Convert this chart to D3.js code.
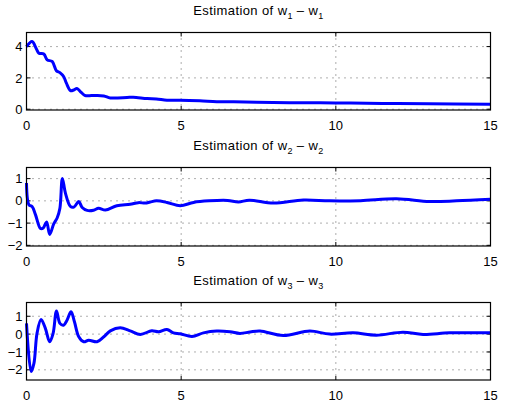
<!DOCTYPE html>
<html>
<head>
<meta charset="utf-8">
<script src="https://cdn.jsdelivr.net/npm/d3@7"></script>
<style>
  body { margin: 0; background: #fff; }
  text { font-family: "Liberation Sans", Arial, sans-serif; }
</style>
</head>
<body>
<svg id="chart" width="506" height="407"></svg>
<script>
// time axis ticks
const xTicks = [0, 5, 10, 15]

// estimation error w1
const w1T = [0, 0.18, 0.32, 0.4, 0.56, 0.67, 0.83, 0.97, 1.08, 1.2, 1.29, 1.42, 1.53, 1.63, 1.74, 1.88, 2.12, 2.5, 2.71, 3.25, 3.45, 3.9, 4.2, 4.54, 4.97, 5.6, 6.15, 6.7, 7.44, 8.5, 10, 11.5, 13, 15]
const w1V = [4.0, 4.33, 3.85, 3.58, 3.53, 3.15, 3.05, 2.45, 2.34, 2.09, 1.66, 1.19, 1.23, 1.32, 1.13, 0.89, 0.87, 0.85, 0.72, 0.75, 0.77, 0.68, 0.66, 0.58, 0.58, 0.54, 0.48, 0.47, 0.44, 0.42, 0.4, 0.37, 0.35, 0.32]

// estimation error w2
const w2T = [0, 0.08, 0.18, 0.29, 0.45, 0.54, 0.65, 0.75, 0.88, 0.99, 1.08, 1.16, 1.26, 1.42, 1.53, 1.69, 1.8, 1.96, 2.17, 2.33, 2.55, 2.92, 3.35, 3.62, 3.84, 4.0, 4.2, 4.54, 4.97, 5.4, 5.9, 6.5, 6.85, 7.2, 7.98, 8.95, 9.8, 10.8, 11.96, 13.03, 13.9, 15]
const w2V = [0.8, -0.18, -0.25, -0.62, -1.24, -1.22, -0.95, -1.51, -1.04, -0.77, -0.33, 1.01, 0.34, -0.25, -0.28, -0.03, -0.3, -0.43, -0.42, -0.33, -0.41, -0.22, -0.15, -0.08, -0.1, -0.05, 0.0, -0.07, -0.22, -0.07, 0.0, 0.02, -0.05, 0.03, -0.1, 0.04, 0.0, 0.01, 0.09, -0.03, 0.0, 0.07]

// estimation error w3
const w3T = [0, 0.15, 0.24, 0.34, 0.47, 0.61, 0.75, 0.86, 0.97, 1.08, 1.2, 1.31, 1.44, 1.55, 1.69, 1.85, 2.01, 2.28, 2.5, 2.71, 3.03, 3.35, 3.68, 4.05, 4.27, 4.54, 4.75, 4.97, 5.35, 5.72, 6.15, 6.58, 6.9, 7.23, 7.55, 8.3, 9.16, 9.8, 10.56, 11.31, 12.17, 12.82, 13.68, 15]
const w3V = [0.6, -2.1, -1.64, 0.04, 0.82, 0.32, -0.43, 0.04, 1.3, 0.6, 0.5, 0.78, 1.25, 0.69, -0.15, -0.43, -0.34, -0.43, -0.15, 0.18, 0.35, 0.18, -0.02, 0.19, 0.13, 0.26, 0.07, 0.02, -0.13, 0.07, 0.17, 0.13, 0.04, 0.12, 0.17, -0.08, 0.17, 0.0, 0.07, -0.06, 0.11, -0.02, 0.07, 0.07]

const panels = [
    {idx: '1', t: w1T, v: w1V, yDomain: [-0.05, 4.9], yTicks: [0, 2, 4], top: 32.5, bottom: 110, titleY: 14.5},
    {idx: '2', t: w2T, v: w2V, yDomain: [-2.03, 1.5], yTicks: [-2, -1, 0, 1], top: 167.5, bottom: 246, titleY: 149.5},
    {idx: '3', t: w3T, v: w3V, yDomain: [-2.57, 1.77], yTicks: [-2, -1, 0, 1], top: 302.5, bottom: 380, titleY: 284.5}
]

const svg = d3.select('#chart')
const left = 26.5, right = 490.5

const x = d3.scaleLinear().domain([0, 15]).range([left, right])

panels.forEach(p => {
    let y = d3.scaleLinear().domain(p.yDomain).range([p.bottom, p.top])
    let g = svg.append('g')

    // grid
    g.selectAll('line.vg')
        .data(xTicks.slice(1, -1))
        .enter().append('line')
        .attr('x1', d => x(d)).attr('x2', d => x(d))
        .attr('y1', p.top).attr('y2', p.bottom)
        .attr('stroke', '#333').attr('stroke-width', 0.8)
        .attr('stroke-dasharray', '1,5')
    g.selectAll('line.hg')
        .data(p.yTicks)
        .enter().append('line')
        .attr('x1', left).attr('x2', right)
        .attr('y1', d => y(d)).attr('y2', d => y(d))
        .attr('stroke', '#333').attr('stroke-width', 0.8)
        .attr('stroke-dasharray', '1,5')

    // inward ticks on all four sides
    let tl = 4
    xTicks.forEach(d => {
        g.append('line').attr('x1', x(d)).attr('x2', x(d)).attr('y1', p.bottom).attr('y2', p.bottom - tl).attr('stroke', '#000')
        g.append('line').attr('x1', x(d)).attr('x2', x(d)).attr('y1', p.top).attr('y2', p.top + tl).attr('stroke', '#000')
    })
    p.yTicks.forEach(d => {
        g.append('line').attr('x1', left).attr('x2', left + tl).attr('y1', y(d)).attr('y2', y(d)).attr('stroke', '#000')
        g.append('line').attr('x1', right).attr('x2', right - tl).attr('y1', y(d)).attr('y2', y(d)).attr('stroke', '#000')
    })

    // data line
    let pts = p.t.map((t, i) => [t, p.v[i]])
    g.append('path')
        .datum(pts)
        .attr('fill', 'none')
        .attr('stroke', '#0000ff')
        .attr('stroke-width', 3)
        .attr('stroke-linejoin', 'round')
        .attr('d', d3.line().x(d => x(d[0])).y(d => y(d[1])).curve(d3.curveCatmullRom.alpha(0.5)))

    // box
    g.append('rect')
        .attr('x', left).attr('y', p.top)
        .attr('width', right - left).attr('height', p.bottom - p.top)
        .attr('fill', 'none').attr('stroke', '#000').attr('stroke-width', 1.2)

    // tick labels
    g.selectAll('text.xl')
        .data(xTicks)
        .enter().append('text')
        .attr('x', d => x(d)).attr('y', p.bottom + 19.5)
        .attr('text-anchor', 'middle')
        .attr('font-size', 13)
        .text(d => d)
    g.selectAll('text.yl')
        .data(p.yTicks)
        .enter().append('text')
        .attr('x', left - 4).attr('y', d => y(d) + 4.6)
        .attr('text-anchor', 'end')
        .attr('font-size', 13)
        .text(d => d < 0 ? '\u2212' + Math.abs(d) : d)

    // title with subscripts
    let title = g.append('text')
        .attr('x', (left + right) / 2).attr('y', p.titleY)
        .attr('text-anchor', 'middle')
        .attr('font-size', 13)
        .attr('letter-spacing', 0.4)
    title.append('tspan').text('Estimation of w')
    title.append('tspan').attr('dy', 4).attr('font-size', 9).text(p.idx)
    title.append('tspan').attr('dy', -4).text(' \u2013 w')
    title.append('tspan').attr('dy', 4).attr('font-size', 9).text(p.idx)
})
</script>
</body>
</html>
